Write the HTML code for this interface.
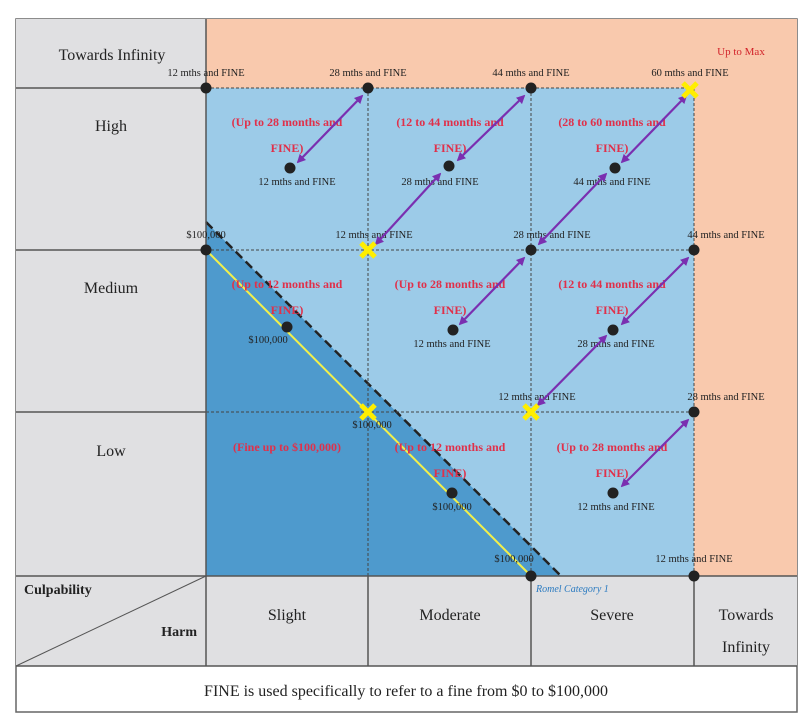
<!DOCTYPE html>
<html><head><style>body{margin:0;background:#fff}svg{display:block}</style></head><body>
<svg width="808" height="728" viewBox="0 0 808 728" xmlns="http://www.w3.org/2000/svg" font-family="Liberation Serif, serif">
<defs><marker id="ah" viewBox="0 0 10 10" refX="8" refY="5" markerWidth="4" markerHeight="4" orient="auto-start-reverse"><path d="M0,0L10,5L0,10z" fill="#7a2fb0"/></marker></defs>
<rect x="16" y="19" width="781" height="693" fill="#fff" stroke="#666" stroke-width="1.5"/>
<rect x="16" y="19" width="190" height="647" fill="#e0e0e2"/>
<rect x="206" y="576" width="591" height="90" fill="#e0e0e2"/>
<rect x="206" y="19" width="591" height="69" fill="#f9c9ad"/>
<rect x="694" y="88" width="103" height="488" fill="#f9c9ad"/>
<rect x="206" y="88" width="488" height="488" fill="#9ccbe8"/>
<polygon points="206,222 561,576 206,576" fill="#4e9acd"/>
<line x1="206" y1="222" x2="561" y2="576" stroke="#222" stroke-width="2.5" stroke-dasharray="9,5"/>
<line x1="206" y1="250" x2="531" y2="576" stroke="#f2f04a" stroke-width="2"/>
<g stroke="#444" stroke-width="1" stroke-dasharray="3,2" fill="none">
<line x1="206" y1="88" x2="694" y2="88"/><line x1="206" y1="250" x2="694" y2="250"/><line x1="206" y1="412" x2="694" y2="412"/>
<line x1="368" y1="88" x2="368" y2="576"/><line x1="531" y1="88" x2="531" y2="576"/><line x1="694" y1="88" x2="694" y2="576"/>
</g>
<g stroke="#555" stroke-width="1.5">
<line x1="16" y1="88" x2="206" y2="88"/><line x1="16" y1="250" x2="206" y2="250"/><line x1="16" y1="412" x2="206" y2="412"/>
<line x1="206" y1="19" x2="206" y2="666"/><line x1="16" y1="576" x2="797" y2="576"/><line x1="16" y1="666" x2="797" y2="666"/>
<line x1="368" y1="576" x2="368" y2="666"/><line x1="531" y1="576" x2="531" y2="666"/><line x1="694" y1="576" x2="694" y2="666"/>
<line x1="16" y1="666" x2="206" y2="576" stroke-width="1"/>
</g>
<g font-size="16" fill="#222" text-anchor="middle">
<text x="112" y="60">Towards Infinity</text><text x="111" y="131">High</text><text x="111" y="293">Medium</text><text x="111" y="456">Low</text>
<text x="287" y="620">Slight</text><text x="450" y="620">Moderate</text><text x="612" y="620">Severe</text>
<text x="746" y="620">Towards</text><text x="746" y="652">Infinity</text>
<text x="406" y="696">FINE is used specifically to refer to a fine from $0 to $100,000</text>
</g>
<text x="24" y="594" font-size="14" font-weight="bold" fill="#222">Culpability</text>
<text x="197" y="636" font-size="14" font-weight="bold" fill="#222" text-anchor="end">Harm</text>
<text x="741" y="55" font-size="11" fill="#d2232a" text-anchor="middle">Up to Max</text>
<text x="536" y="592" font-size="10" font-style="italic" fill="#2a7ac0">Romel Category 1</text>
<g font-size="12" fill="#e0304a" text-anchor="middle" font-weight="bold">
<text x="287" y="126">(Up to 28 months and</text><text x="287" y="152">FINE)</text>
<text x="450" y="126">(12 to 44 months and</text><text x="450" y="152">FINE)</text>
<text x="612" y="126">(28 to 60 months and</text><text x="612" y="152">FINE)</text>
<text x="287" y="288">(Up to 12 months and</text><text x="287" y="314">FINE)</text>
<text x="450" y="288">(Up to 28 months and</text><text x="450" y="314">FINE)</text>
<text x="612" y="288">(12 to 44 months and</text><text x="612" y="314">FINE)</text>
<text x="287" y="451">(Fine up to $100,000)</text>
<text x="450" y="451">(Up to 12 months and</text><text x="450" y="477">FINE)</text>
<text x="612" y="451">(Up to 28 months and</text><text x="612" y="477">FINE)</text>
</g>
<g font-size="10.5" fill="#222" text-anchor="middle">
<text x="206" y="76">12 mths and FINE</text><text x="368" y="76">28 mths and FINE</text><text x="531" y="76">44 mths and FINE</text><text x="690" y="76">60 mths and FINE</text>
<text x="297" y="185">12 mths and FINE</text><text x="440" y="185">28 mths and FINE</text><text x="612" y="185">44 mths and FINE</text>
<text x="206" y="238">$100,000</text><text x="374" y="238">12 mths and FINE</text><text x="552" y="238">28 mths and FINE</text><text x="726" y="238">44 mths and FINE</text>
<text x="268" y="343">$100,000</text><text x="452" y="347">12 mths and FINE</text><text x="616" y="347">28 mths and FINE</text>
<text x="372" y="428">$100,000</text><text x="537" y="400">12 mths and FINE</text><text x="726" y="400">28 mths and FINE</text>
<text x="452" y="510">$100,000</text><text x="616" y="510">12 mths and FINE</text>
<text x="514" y="562">$100,000</text><text x="694" y="562">12 mths and FINE</text>
</g>
<g fill="#222">
<circle cx="206" cy="88" r="5.5"/><circle cx="368" cy="88" r="5.5"/><circle cx="531" cy="88" r="5.5"/>
<circle cx="290" cy="168" r="5.5"/><circle cx="449" cy="166" r="5.5"/><circle cx="615" cy="168" r="5.5"/>
<circle cx="206" cy="250" r="5.5"/><circle cx="531" cy="250" r="5.5"/><circle cx="694" cy="250" r="5.5"/>
<circle cx="287" cy="327" r="5.5"/><circle cx="453" cy="330" r="5.5"/><circle cx="613" cy="330" r="5.5"/>
<circle cx="694" cy="412" r="5.5"/>
<circle cx="452" cy="493" r="5.5"/><circle cx="613" cy="493" r="5.5"/>
<circle cx="531" cy="576" r="5.5"/><circle cx="694" cy="576" r="5.5"/>
</g>
<g stroke="#7a2fb0" stroke-width="2.2" marker-start="url(#ah)" marker-end="url(#ah)">
<line x1="298" y1="162" x2="362" y2="96"/><line x1="458" y1="160" x2="524" y2="96"/><line x1="622" y1="162" x2="686" y2="96"/>
<line x1="376" y1="244" x2="440" y2="174"/><line x1="539" y1="244" x2="606" y2="174"/>
<line x1="460" y1="324" x2="524" y2="258"/><line x1="622" y1="324" x2="688" y2="258"/>
<line x1="538" y1="405" x2="606" y2="336"/><line x1="622" y1="486" x2="688" y2="420"/>
</g>
<g stroke="#ffee00" stroke-width="5">
<path d="M683,83l14,14M697,83l-14,14"/><path d="M361,243l14,14M375,243l-14,14"/>
<path d="M361,405l14,14M375,405l-14,14"/><path d="M524,405l14,14M538,405l-14,14"/>
</g>
</svg>
</body></html>
